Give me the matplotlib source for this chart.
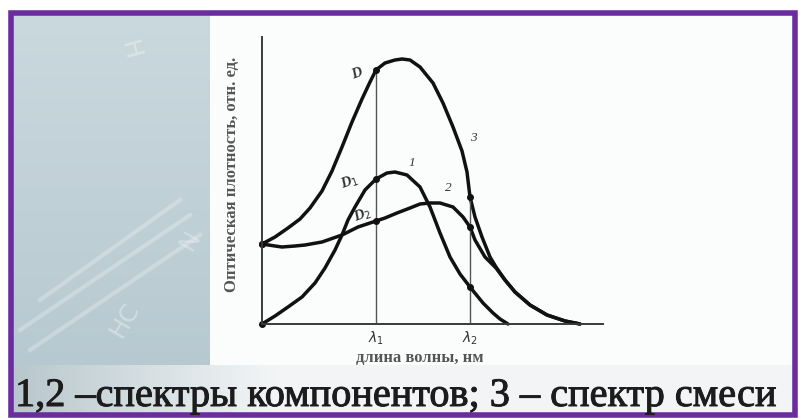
"""
Spectra of two components and their mixture (slide reproduction).
"""

import matplotlib.pyplot as plt
import matplotlib.patheffects as pe
from matplotlib.patches import Rectangle
import numpy as np

# Curve data, relative units (wavelength, optical density)
x_1 = [0, 13, 26, 40, 53, 63, 73, 80, 86, 93, 103, 114, 125, 133, 145, 158,
       168, 178, 188, 198, 208, 221, 231, 238, 246]
y_1 = [0, 8, 17, 27, 41, 56, 74, 89, 104, 117, 134, 145, 151, 152, 149, 137,
       117, 91, 67, 50, 37, 21, 11, 5, 0]

x_2 = [0, 13, 20, 33, 43, 60, 80, 96, 114, 123, 135, 148, 158, 168, 178, 191,
       201, 208, 213, 223, 228, 234, 243, 253, 268, 285, 303, 318]
y_2 = [80, 78, 77, 78, 79, 82, 89, 97, 103, 106, 111, 116, 120, 121, 121, 117,
       107, 97, 84, 67, 62, 56, 44, 32, 19, 9, 3, 0]

x_3 = [0, 13, 26, 38, 48, 60, 70, 80, 90, 100, 108, 114, 123, 133, 140, 148,
       158, 171, 181, 191, 200, 205, 208, 213, 220, 228, 234, 243, 253, 268,
       285, 303, 318]
y_3 = [80, 87, 96, 105, 116, 133, 153, 177, 202, 225, 242, 254, 261, 264, 265,
       264, 257, 241, 221, 197, 173, 152, 127, 107, 87, 67, 57, 44, 32, 19, 9,
       3, 0]

lambda_1 = 114
lambda_2 = 208

curve_labels = ["1", "2", "3"]
curve_label_pos = [(150, 161), (186, 136), (211, 186)]
d_labels = ["D", "D$_1$", "D$_2$"]
d_label_pos = [(95, 250), (88, 142), (101, 109)]

caption = "1,2 \u2013спектры компонентов; 3 \u2013 спектр смеси"
x_label = "длина волны, нм"
y_label = "Оптическая плотность, отн. ед."

fig = plt.figure(figsize=(8, 4.18), dpi=100)

# Slide background (pixel coordinates)
bg = fig.add_axes([0, 0, 1, 1])
bg.set_xlim(0, 800)
bg.set_ylim(418, 0)
bg.axis("off")

grad = np.linspace(0, 1, 100)[:, None] * np.ones((1, 10))
base_top = np.array([0.79, 0.85, 0.87])
base_bot = np.array([0.71, 0.78, 0.81])
img = base_top + (base_bot - base_top) * grad[..., None]
bg.imshow(img, extent=(11, 795, 413, 14), aspect="auto", zorder=0)

# faint chemistry decorations on the left
for x0, y0, x1_, y1_ in [(20, 330, 190, 215), (30, 350, 200, 235), (40, 300, 180, 200)]:
    bg.plot([x0, x1_], [y0, y1_], color="white", alpha=0.25, lw=3, zorder=1)
bg.text(130, 50, "H", color="white", alpha=0.35, fontsize=18, rotation=-75,
        ha="center", va="center", zorder=1)
bg.text(125, 320, "HC", color="white", alpha=0.35, fontsize=18, rotation=60,
        ha="center", va="center", zorder=1)
bg.text(190, 240, "N", color="white", alpha=0.3, fontsize=18, rotation=60,
        ha="center", va="center", zorder=1)

# white picture panel
bg.add_patch(Rectangle((210, 14), 585, 351, facecolor="#fbfcfc", edgecolor="none", zorder=2))

# caption strip
strip = np.linspace(0, 1, 200)[None, :]
c_left = np.array([0.72, 0.78, 0.80])
c_right = np.array([0.95, 0.96, 0.965])
w = np.clip(strip * 3.0, 0, 1)
strip_img = c_left + (c_right - c_left) * w[..., None]
bg.imshow(strip_img, extent=(11, 795, 413, 365), aspect="auto", zorder=2)

# purple frame
bg.add_patch(Rectangle((11, 13), 784, 402, fill=False, edgecolor="#6a2c9e", lw=4, zorder=5))

fig.text(15 / 800, (418 - 406) / 418, caption, fontsize=29, family="Liberation Serif",
         color="#1c1c1c", ha="left", va="baseline",
         path_effects=[pe.withStroke(linewidth=0.7, foreground="#1c1c1c")])

# Spectra axes
ax = fig.add_axes([262 / 800, (418 - 324) / 418, 341 / 800, 287 / 418])
ax.patch.set_alpha(0)
ax.set_xlim(0, 341)
ax.set_ylim(0, 287)
ax.set_xticks([])
ax.set_yticks([])
for side in ["top", "right"]:
    ax.spines[side].set_visible(False)
for side in ["left", "bottom"]:
    ax.spines[side].set_color("#3a3a3a")
    ax.spines[side].set_linewidth(1.4)

line_kw = dict(color="#111111", lw=2.5, solid_capstyle="round",
               solid_joinstyle="round", clip_on=False)
ax.plot(x_1, y_1, **line_kw)
ax.plot(x_2, y_2, **line_kw)
ax.plot(x_3, y_3, **line_kw)

# analytical wavelengths
i3 = x_3.index(lambda_1)
ax.plot([lambda_1, lambda_1], [0, y_3[i3]], color="#555555", lw=1)
j3 = x_3.index(lambda_2)
ax.plot([lambda_2, lambda_2], [0, y_3[j3]], color="#555555", lw=1)

# points on curves at lambda_1, lambda_2 and the start points
for xs, ys in [(x_1, y_1), (x_2, y_2), (x_3, y_3)]:
    for lam in [0, lambda_1, lambda_2]:
        k = xs.index(lam)
        ax.plot(xs[k], ys[k], "o", color="#111111", ms=4, clip_on=False)

for lab, (lx, ly) in zip(curve_labels, curve_label_pos):
    ax.text(lx, ly, lab, fontsize=9.5, style="italic", family="Liberation Serif",
            color="#333333", ha="center", va="center")
for lab, (lx, ly) in zip(d_labels, d_label_pos):
    ax.text(lx, ly, lab, fontsize=10.5, style="italic", family="Liberation Serif",
            weight="bold", color="#333333", ha="center", va="center", rotation=20)

ax.text(lambda_1, -14, "$\\lambda_1$", fontsize=10, color="#333333", ha="center", va="center")
ax.text(lambda_2, -14, "$\\lambda_2$", fontsize=10, color="#333333", ha="center", va="center")

ax.text(158, -34, x_label, fontsize=12, family="Liberation Serif", weight="bold",
        color="#555555", ha="center", va="center")
ax.text(-30, 150, y_label, fontsize=12, family="Liberation Serif", weight="bold",
        color="#555555", ha="center", va="center", rotation=90)

plt.savefig("out.png", dpi=100)
plt.close()
